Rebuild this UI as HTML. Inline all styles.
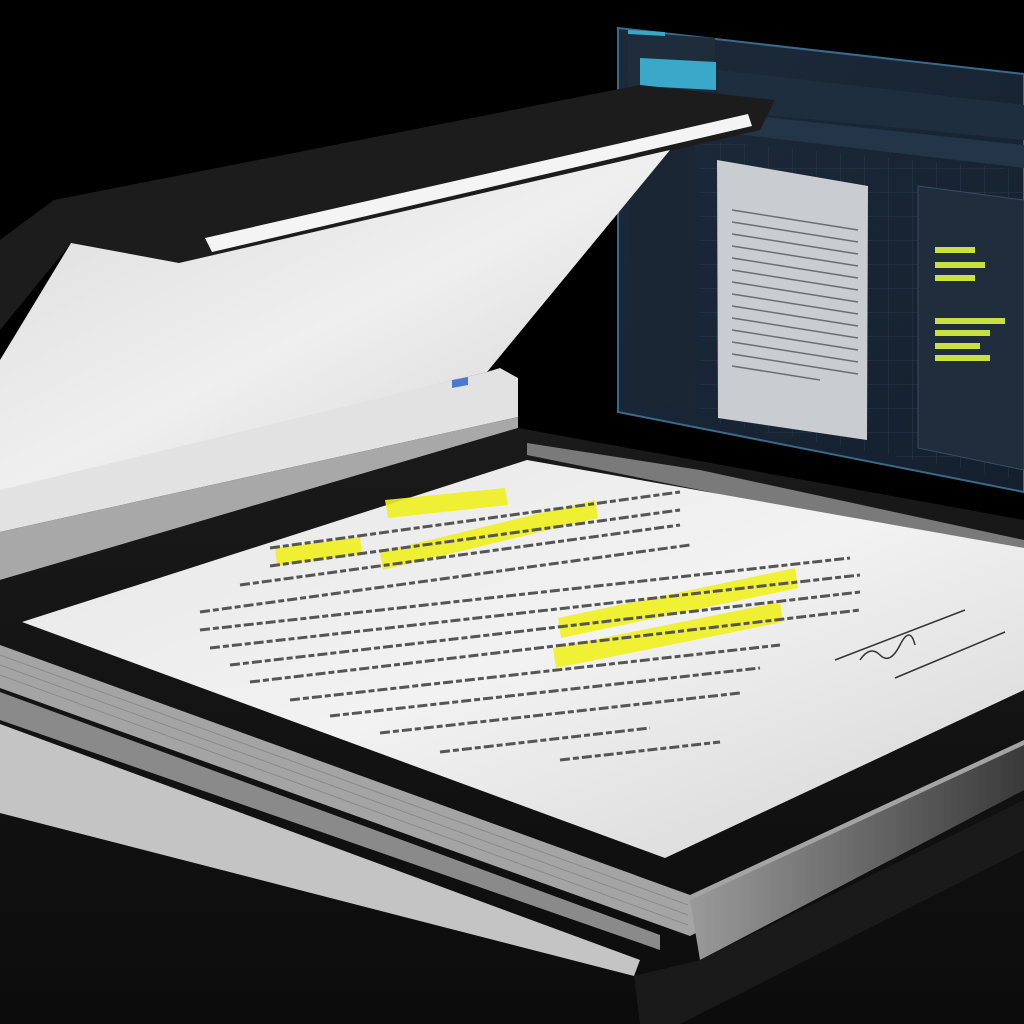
<!DOCTYPE html>
<html><head><meta charset="utf-8"><style>html,body{margin:0;padding:0;background:#000}svg{display:block}</style></head>
<body>
<svg width="1024" height="1024" viewBox="0 0 1024 1024" xmlns="http://www.w3.org/2000/svg">
<defs>
<linearGradient id="lid" x1="0" y1="0" x2="1" y2="1"><stop offset="0" stop-color="#dcdcdc"/><stop offset="0.5" stop-color="#efefef"/><stop offset="1" stop-color="#d0d0d0"/></linearGradient>
<linearGradient id="paper" x1="0" y1="0" x2="1" y2="1"><stop offset="0" stop-color="#e6e6e6"/><stop offset="0.5" stop-color="#f2f2f2"/><stop offset="1" stop-color="#d4d4d4"/></linearGradient>
<linearGradient id="mon" x1="0" y1="0" x2="1" y2="1"><stop offset="0" stop-color="#1d2a3a"/><stop offset="1" stop-color="#14202e"/></linearGradient>
<linearGradient id="rim" x1="0" y1="0" x2="1" y2="0"><stop offset="0" stop-color="#9a9a9a"/><stop offset="1" stop-color="#3a3a3a"/></linearGradient>
<linearGradient id="base" x1="0" y1="0" x2="0" y2="1"><stop offset="0" stop-color="#1a1a1a"/><stop offset="1" stop-color="#0c0c0c"/></linearGradient>
<pattern id="grid" width="24" height="24" patternUnits="userSpaceOnUse"><path d="M24 0H0V24" fill="none" stroke="#2a3a4e" stroke-width="1"/></pattern>
</defs>
<rect width="1024" height="1024" fill="#000"/>
<!-- monitor -->
<polygon points="618,28 1024,74 1024,492 618,412" fill="url(#mon)" stroke="#3a6a8a" stroke-width="2"/>
<polygon points="700,140 1024,170 1024,480 700,420" fill="url(#grid)"/>
<polygon points="628,32 715,38 715,92 628,88" fill="#1e2c3c"/>
<polygon points="640,58 716,62 716,90 640,86" fill="#3aa8c8"/>
<polygon points="628,30 665,32 665,36 628,34" fill="#3aa8c8"/>
<polygon points="718,70 1024,105 1024,140 718,110" fill="#1f2e3f"/>
<polygon points="718,112 1024,145 1024,168 718,132" fill="#243547"/>
<polygon points="630,120 695,125 695,410 630,400" fill="#1a2634"/>
<polygon points="717,160 868,186 867,440 718,418" fill="#c9ccd0"/>
<g stroke="#6a6e74" stroke-width="1.5">
<line x1="732" y1="210" x2="858" y2="230"/><line x1="732" y1="222" x2="858" y2="242"/><line x1="732" y1="234" x2="858" y2="254"/><line x1="732" y1="246" x2="858" y2="266"/><line x1="732" y1="258" x2="858" y2="278"/><line x1="732" y1="270" x2="858" y2="290"/><line x1="732" y1="282" x2="858" y2="302"/><line x1="732" y1="294" x2="858" y2="314"/><line x1="732" y1="306" x2="858" y2="326"/><line x1="732" y1="318" x2="858" y2="338"/><line x1="732" y1="330" x2="858" y2="350"/><line x1="732" y1="342" x2="858" y2="362"/><line x1="732" y1="354" x2="858" y2="374"/><line x1="732" y1="366" x2="820" y2="380"/>
</g>
<polygon points="918,186 1024,200 1024,470 918,448" fill="#1f2d3d" stroke="#3a4c60"/>
<g fill="#c8e040"><rect x="935" y="247" width="40" height="6"/><rect x="935" y="262" width="50" height="6"/><rect x="935" y="275" width="40" height="6"/><rect x="935" y="318" width="70" height="6"/><rect x="935" y="330" width="55" height="6"/><rect x="935" y="343" width="45" height="6"/><rect x="935" y="355" width="55" height="6"/></g>
<!-- lid dark top -->
<polygon points="0,240 54,200 640,85 775,100 760,130 210,258 179,263 71,243 0,330" fill="#1c1c1c"/>
<polygon points="205,238 748,114 752,126 212,252" fill="#f4f4f4"/>
<!-- white lid surface -->
<polygon points="0,360 71,243 179,263 670,150 487,372 0,492" fill="url(#lid)"/>
<!-- hinge block -->
<polygon points="0,490 487,372 500,368 518,378 518,417 0,532" fill="#e2e2e2"/>
<polygon points="0,532 518,417 518,428 0,580" fill="#a8a8a8"/>
<polygon points="452,380 468,377 468,385 452,388" fill="#4a7ad0"/>
<!-- scanner body -->
<polygon points="0,580 518,428 1024,520 1024,1024 0,1024" fill="url(#base)"/>
<polygon points="527,443 700,470 1024,540 1024,560 700,490 527,455" fill="#7a7a7a"/>
<!-- bands below paper -->
<polygon points="0,645 690,895 1024,740 1024,770 690,936 0,688" fill="#a4a4a4"/>
<g stroke="#8a8a8a" stroke-width="1"><line x1="0" y1="655" x2="688" y2="905"/><line x1="0" y1="665" x2="688" y2="915"/><line x1="0" y1="675" x2="688" y2="925"/></g>
<polygon points="0,692 660,935 660,950 0,720" fill="#8a8a8a"/>
<polygon points="0,724 640,960 634,976 0,813" fill="#c4c4c4"/>
<polygon points="690,900 1024,745 1024,790 700,960" fill="url(#rim)"/>
<polygon points="634,976 700,960 1024,800 1024,850 680,1024 640,1024" fill="#1a1a1a"/>
<!-- paper -->
<polygon points="22,622 527,460 1024,548 1024,690 665,858" fill="url(#paper)"/>
<!-- highlights -->
<g fill="#f0f020" opacity="0.9">
<polygon points="385,500 505,488 508,505 388,518"/>
<polygon points="275,548 360,537 362,554 277,566"/>
<polygon points="380,552 595,500 598,518 383,570"/>
<polygon points="558,618 795,568 798,588 561,638"/>
<polygon points="553,648 780,602 783,622 556,668"/>
</g>
<!-- text lines -->
<g stroke="#555" stroke-width="3" stroke-dasharray="10 3 6 3">
<line x1="270" y1="548" x2="680" y2="492"/>
<line x1="270" y1="566" x2="680" y2="510"/>
<line x1="240" y1="585" x2="680" y2="525"/>
<line x1="200" y1="612" x2="690" y2="545"/>
<line x1="200" y1="630" x2="850" y2="558"/>
<line x1="210" y1="648" x2="860" y2="575"/>
<line x1="230" y1="665" x2="860" y2="592"/>
<line x1="250" y1="682" x2="860" y2="610"/>
<line x1="290" y1="700" x2="780" y2="645"/>
<line x1="330" y1="716" x2="760" y2="668"/>
<line x1="380" y1="733" x2="740" y2="693"/>
<line x1="440" y1="752" x2="650" y2="728"/>
<line x1="560" y1="760" x2="720" y2="742"/>
</g>
<g stroke="#333" stroke-width="1.5" fill="none">
<line x1="835" y1="660" x2="965" y2="610"/>
<line x1="895" y1="678" x2="1005" y2="632"/>
<path d="M860 660 q10 -15 20 -5 t20 -10 t15 0"/>
</g>
</svg>
</body></html>
